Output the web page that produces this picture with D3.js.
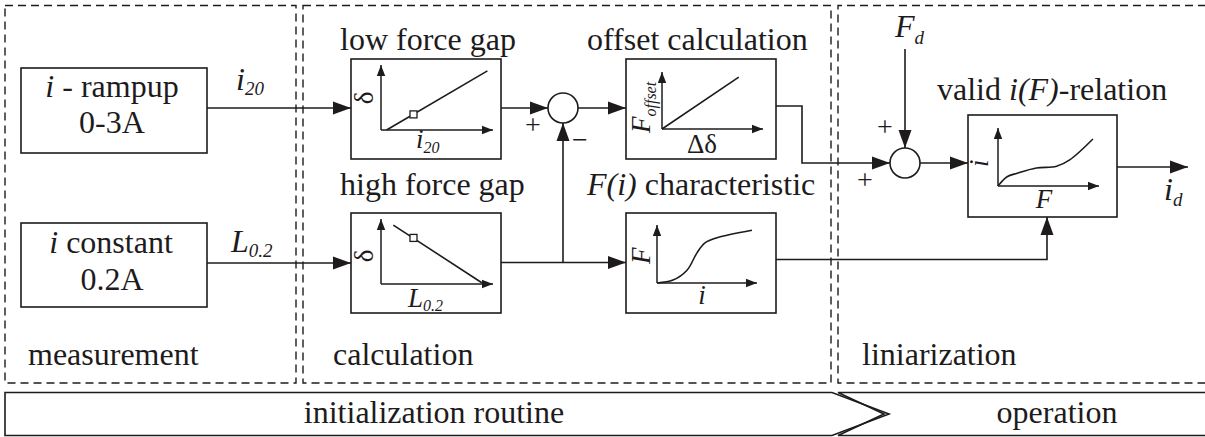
<!DOCTYPE html>
<html>
<head>
<meta charset="utf-8">
<script src="https://cdn.jsdelivr.net/npm/d3@7"></script>
<style>
body { margin: 0; background: #fff; }
</style>
</head>
<body>
<svg id="chart" width="1205" height="437"></svg>
<script>
// phases of the routine (dashed frames) and the bottom bar
var phases = ["measurement", "calculation", "liniarization"];
var stages = ["initialization routine", "operation"];

// block texts
var blockLines = [["i - rampup", "0-3A"], ["i constant", "0.2A"]];
var plotTitles = ["low force gap", "high force gap", "offset calculation", "F(i) characteristic", "valid i(F)-relation"];

// curves inside the small plots, in axis units (0..1)
var lowGap = [[0.05, 0], [0.95, 0.91]];
var highGap = [[0.11, 0.92], [0.9, 0.02]];
var offsetLine = [[0, 0], [0.76, 0.91]];
var forceChar = [[0, 0], [0.16, 0.05], [0.30, 0.22], [0.40, 0.52], [0.48, 0.69], [0.60, 0.78], [0.95, 0.91]];
var validRel = [[0, 0], [0.09, 0.16], [0.19, 0.22], [0.38, 0.31], [0.58, 0.34], [0.71, 0.45], [0.94, 0.81]];
var workPoints = [[0.29, 0.24], [0.29, 0.72]];

var ink = "#1e1b1c";
var serif = "Liberation Serif";
var svg = d3.select("#chart");

// arrow heads
var defs = svg.append("defs");
defs.append("marker")
    .attr("id", "arr")
    .attr("markerUnits", "userSpaceOnUse")
    .attr("viewBox", "0 -7 18 14")
    .attr("refX", 18).attr("refY", 0)
    .attr("markerWidth", 18).attr("markerHeight", 14)
    .attr("orient", "auto")
  .append("path").attr("d", "M0,-6.5L18,0L0,6.5Z").attr("fill", ink);
defs.append("marker")
    .attr("id", "arrS")
    .attr("markerUnits", "userSpaceOnUse")
    .attr("viewBox", "0 -5 11 10")
    .attr("refX", 11).attr("refY", 0)
    .attr("markerWidth", 11).attr("markerHeight", 10)
    .attr("orient", "auto")
  .append("path").attr("d", "M0,-4.2L11,0L0,4.2Z").attr("fill", ink);

// ---------- dashed phase frames
var frames = [
  {x0: 5, x1: 296, closed: true},
  {x0: 303, x1: 831, closed: true},
  {x0: 838, x1: 1206, closed: false}
];
svg.selectAll("path.frame")
  .data(frames)
  .enter().append("path")
    .attr("class", "frame")
    .attr("d", function(d) {
      return d.closed
        ? "M" + d.x0 + ",5.5H" + d.x1 + "V383H" + d.x0 + "Z"
        : "M" + d.x1 + ",5.5H" + d.x0 + "V383H" + d.x1;
    })
    .attr("fill", "none")
    .attr("stroke", ink)
    .attr("stroke-width", 1.4)
    .attr("stroke-dasharray", "8,5");

svg.selectAll("text.phase")
  .data(phases)
  .enter().append("text")
    .attr("class", "phase")
    .attr("x", function(d, i) { return [28, 333, 862][i]; })
    .attr("y", 365)
    .attr("font-family", serif)
    .attr("fill", ink)
    .attr("font-size", 32)
    .text(function(d) { return d; });

// ---------- bottom bar
var bar = svg.append("g").attr("fill", "none").attr("stroke", ink).attr("stroke-width", 1.6);
bar.append("path").attr("d", "M5,392.5H832L889,414L832,435.5H5Z");
bar.append("path").attr("d", "M1206,392.5H838L884,414L838,435.5H1206");
svg.selectAll("text.stage")
  .data(stages)
  .enter().append("text")
    .attr("class", "stage")
    .attr("x", function(d, i) { return [434, 1057][i]; })
    .attr("y", 423)
    .attr("text-anchor", "middle")
    .attr("font-family", serif)
    .attr("fill", ink)
    .attr("font-size", 32)
    .text(function(d) { return d; });

// ---------- helper for mixed italic / subscript labels
function label(x, y, parts, size, anchor, rotate) {
  var t = svg.append("text")
    .attr("font-family", serif)
    .attr("fill", ink)
    .attr("font-size", size)
    .attr("text-anchor", anchor || "start");
  if (rotate) t.attr("transform", "translate(" + x + "," + y + ") rotate(-90)");
  else t.attr("x", x).attr("y", y);
  var shifted = 0;
  parts.forEach(function(p) {
    var s = t.append("tspan").text(p.t);
    if (p.it) s.attr("font-style", "italic");
    if (p.sub) {
      s.attr("font-size", p.size || size * 0.58).attr("dy", p.sub);
      shifted += p.sub;
    } else if (shifted) {
      s.attr("dy", -shifted);
      shifted = 0;
    }
  });
  return t;
}

// ---------- measurement blocks
var mBlocks = [{y0: 68, y1: 153}, {y0: 223, y1: 307}];
svg.selectAll("rect.mblock")
  .data(mBlocks)
  .enter().append("rect")
    .attr("class", "mblock")
    .attr("x", 21).attr("width", 186)
    .attr("y", function(d) { return d.y0; })
    .attr("height", function(d) { return d.y1 - d.y0; })
    .attr("fill", "#fff").attr("stroke", ink).attr("stroke-width", 1.6);

label(112, 97, [{t: "i", it: true}, {t: " - rampup"}], 32, "middle");
label(112, 133, [{t: blockLines[0][1]}], 32, "middle");
label(111, 253, [{t: "i", it: true}, {t: " constant"}], 32, "middle");
label(112, 290, [{t: blockLines[1][1]}], 32, "middle");

// ---------- wires
var wires = [
  [[207, 108], [351, 108]],
  [[207, 263], [351, 263]],
  [[501, 108], [548, 108]],
  [[501, 262.5], [626, 262.5]],
  [[563, 262.5], [563, 123]],
  [[578, 108], [626, 108]],
  [[776, 106], [802, 106], [802, 163], [890, 163]],
  [[905, 49], [905, 148]],
  [[920, 163], [968, 163]],
  [[1117, 167], [1188, 167]],
  [[776, 259.5], [1047, 259.5], [1047, 217]]
];
var line = d3.line();
svg.selectAll("path.wire")
  .data(wires)
  .enter().append("path")
    .attr("class", "wire")
    .attr("d", line)
    .attr("fill", "none")
    .attr("stroke", ink)
    .attr("stroke-width", 1.6)
    .attr("marker-end", "url(#arr)");

// summing junctions
var junctions = [[563, 108], [905, 163]];
svg.selectAll("circle.sum")
  .data(junctions)
  .enter().append("circle")
    .attr("class", "sum")
    .attr("cx", function(d) { return d[0]; })
    .attr("cy", function(d) { return d[1]; })
    .attr("r", 15)
    .attr("fill", "#fff").attr("stroke", ink).attr("stroke-width", 1.6);

var signs = [["+", 533, 134], ["\u2212", 580, 149], ["+", 885, 136], ["+", 865, 189]];
svg.selectAll("text.sign")
  .data(signs)
  .enter().append("text")
    .attr("class", "sign")
    .attr("x", function(d) { return d[1]; })
    .attr("y", function(d) { return d[2]; })
    .attr("text-anchor", "middle")
    .attr("font-family", serif)
    .attr("fill", ink)
    .attr("font-size", 28)
    .text(function(d) { return d[0]; });

// signal labels
label(236, 90, [{t: "i", it: true}, {t: "20", it: true, sub: 5, size: 19}], 32);
label(231, 252, [{t: "L", it: true}, {t: "0.2", it: true, sub: 5, size: 19}], 32);
label(895, 37, [{t: "F", it: true}, {t: "d", it: true, sub: 7, size: 19}], 32);
label(1164, 200, [{t: "i", it: true}, {t: "d", it: true, sub: 6, size: 19}], 32);

// ---------- small characteristic plots
var plots = [
  {box: [351, 59, 501, 159], ox: 381, oy: 130, ax: 493, ay: 65, sx: 112, sy: 65, data: lowGap, mark: workPoints[0], curved: false},
  {box: [351, 213, 501, 313], ox: 381, oy: 284, ax: 493, ay: 219, sx: 112, sy: 64, data: highGap, mark: workPoints[1], curved: false},
  {box: [626, 59, 776, 159], ox: 662, oy: 129, ax: 763, ay: 72, sx: 101, sy: 57, data: offsetLine, curved: false},
  {box: [626, 213, 776, 313], ox: 657, oy: 283, ax: 757, ay: 225, sx: 100, sy: 58, data: forceChar, curved: true},
  {box: [968, 115, 1117, 217], ox: 998, oy: 186, ax: 1099, ay: 128, sx: 101, sy: 58, data: validRel, curved: true}
];

plots.forEach(function(p) {
  var g = svg.append("g");
  g.append("rect")
    .attr("x", p.box[0]).attr("y", p.box[1])
    .attr("width", p.box[2] - p.box[0]).attr("height", p.box[3] - p.box[1])
    .attr("fill", "#fff").attr("stroke", ink).attr("stroke-width", 1.6);

  var x = d3.scaleLinear().domain([0, 1]).range([p.ox, p.ox + p.sx]);
  var y = d3.scaleLinear().domain([0, 1]).range([p.oy, p.oy - p.sy]);

  // axes
  g.append("path").attr("d", "M" + p.ox + "," + p.oy + "V" + p.ay)
    .attr("stroke", ink).attr("stroke-width", 1.5).attr("marker-end", "url(#arrS)");
  g.append("path").attr("d", "M" + p.ox + "," + p.oy + "H" + p.ax)
    .attr("stroke", ink).attr("stroke-width", 1.5).attr("marker-end", "url(#arrS)");

  var l = d3.line()
    .x(function(d) { return x(d[0]); })
    .y(function(d) { return y(d[1]); });
  if (p.curved) l.curve(d3.curveCatmullRom.alpha(0.5));
  g.append("path").datum(p.data)
    .attr("d", l)
    .attr("fill", "none").attr("stroke", ink).attr("stroke-width", 1.6);

  if (p.mark) {
    g.append("rect")
      .attr("x", x(p.mark[0]) - 3.5).attr("y", y(p.mark[1]) - 3.5)
      .attr("width", 7).attr("height", 7)
      .attr("fill", "#fff").attr("stroke", ink).attr("stroke-width", 1.3);
  }
});

// plot titles
var titlePos = [[340, 50], [340, 195], [587, 50], [587, 195], [937, 100]];
label(titlePos[0][0], titlePos[0][1], [{t: plotTitles[0]}], 32);
label(titlePos[1][0], titlePos[1][1], [{t: plotTitles[1]}], 32);
label(titlePos[2][0], titlePos[2][1], [{t: plotTitles[2]}], 32);
label(titlePos[3][0], titlePos[3][1], [{t: "F(i)", it: true}, {t: " characteristic"}], 32);
label(titlePos[4][0], titlePos[4][1], [{t: "valid "}, {t: "i(F)", it: true}, {t: "-relation"}], 32);

// axis labels inside the small plots
label(373, 98, [{t: "\u03b4"}], 27, "middle", true);
label(373, 256, [{t: "\u03b4"}], 27, "middle", true);
label(416, 148, [{t: "i", it: true}, {t: "20", it: true, sub: 5, size: 16}], 27);
label(408, 307, [{t: "L", it: true}, {t: "0.2", it: true, sub: 4, size: 16}], 27);
label(650, 133, [{t: "F", it: true}, {t: "offset", it: true, sub: 6, size: 16}], 27, "start", true);
label(702, 153, [{t: "\u0394\u03b4"}], 27, "middle");
label(650, 264, [{t: "F", it: true}], 27, "start", true);
label(702, 304, [{t: "i", it: true}], 27, "middle");
label(988, 167, [{t: "i", it: true}], 27, "start", true);
label(1044, 208, [{t: "F", it: true}], 27, "middle");
</script>
</body>
</html>
